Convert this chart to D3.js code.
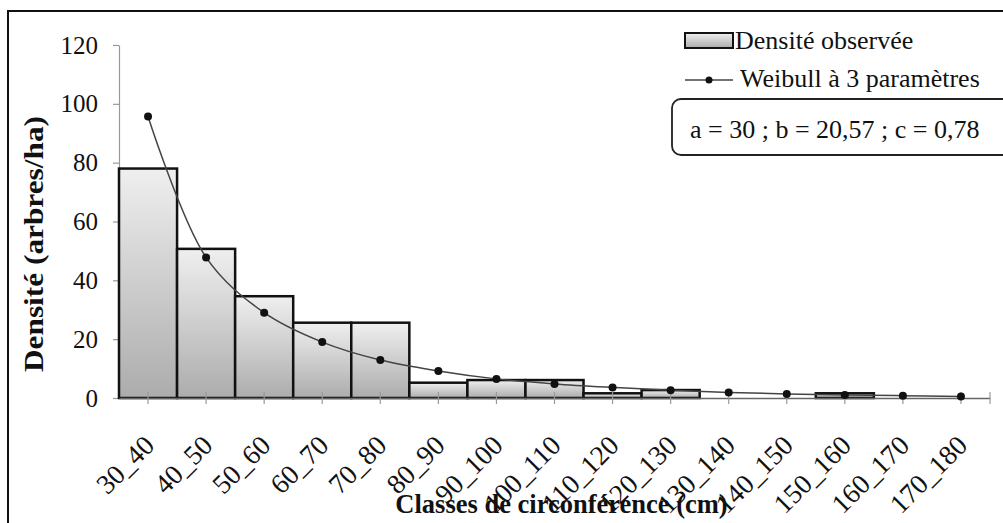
<!DOCTYPE html>
<html>
<head>
<meta charset="utf-8">
<script src="https://cdn.jsdelivr.net/npm/d3@7"></script>
<style>
  html, body { margin: 0; padding: 0; background: #fff; }
  svg { display: block; }
  text { font-family: "Liberation Serif", "Times New Roman", serif; fill: #111; }
</style>
</head>
<body>
<svg id="chart" width="1003" height="523"></svg>
<script>
const categories = ["30_40","40_50","50_60","60_70","70_80","80_90","90_100","100_110","110_120","120_130","130_140","140_150","150_160","160_170","170_180"];
const observed = [78, 50.7, 34.6, 25.6, 25.6, 5.2, 6.1, 6.1, 1.6, 2.7, 0, 0, 1.6, 0, 0];
const weibull = [95.7, 47.8, 29.0, 19.0, 12.9, 9.2, 6.5, 4.8, 3.6, 2.6, 1.9, 1.4, 1.0, 0.8, 0.5];
const yTicks = [0, 20, 40, 60, 80, 100, 120];
const legendLabels = ["Densité observée", "Weibull à 3 paramètres"];
const paramText = "a = 30 ; b = 20,57 ; c = 0,78";
const xTitle = "Classes de circonférence (cm)";
const yTitle = "Densité (arbres/ha)";

const svg = d3.select("#chart");
const plotLeft = 119, plotRight = 990, plotTop = 45, plotBottom = 398;

// gradient
const defs = svg.append("defs");
const grad = defs.append("linearGradient").attr("id", "barGrad")
  .attr("x1", 0).attr("y1", 0).attr("x2", 0).attr("y2", 1);
grad.append("stop").attr("offset", "0%").attr("stop-color", "#efefef");
grad.append("stop").attr("offset", "100%").attr("stop-color", "#acacac");

// outer border
svg.append("rect").attr("x", 8).attr("y", 11).attr("width", 1100).attr("height", 600)
  .attr("fill", "none").attr("stroke", "#111").attr("stroke-width", 2);

const x = d3.scaleBand().domain(categories).range([plotLeft, plotRight]).padding(0);
const y = d3.scaleLinear().domain([0, 120]).range([plotBottom, plotTop]);

// y axis
const yAxis = svg.append("g").attr("transform", `translate(${plotLeft},0)`)
  .call(d3.axisLeft(y).tickValues(yTicks).tickSize(6).tickPadding(15).tickSizeOuter(0));
yAxis.select(".domain").attr("stroke", "#999").attr("stroke-width", 1.2);
yAxis.selectAll(".tick line").attr("stroke", "#999").attr("stroke-width", 1.2);
yAxis.selectAll(".tick text").style("font-size", "25px").attr("fill", "#111")
  .style("font-family", "'Liberation Serif', serif");

// bars
svg.append("g").selectAll("rect").data(categories).join("rect")
  .attr("x", d => x(d))
  .attr("width", x.bandwidth())
  .attr("y", (d, i) => y(observed[i]))
  .attr("height", (d, i) => plotBottom - y(observed[i]))
  .attr("fill", "url(#barGrad)")
  .attr("stroke", "#111").attr("stroke-width", 2.5);

// x axis
const xAxis = svg.append("g").attr("transform", `translate(0,${plotBottom})`)
  .call(d3.axisBottom(x).tickSize(6).tickSizeOuter(0));
xAxis.select(".domain").attr("stroke", "#666").attr("stroke-width", 1.5);
xAxis.selectAll(".tick line").attr("y1", -6).attr("y2", 6).attr("stroke", "#999").attr("stroke-width", 1.2);
xAxis.selectAll(".tick text")
  .style("font-size", "27.5px").attr("fill", "#111")
  .style("font-family", "'Liberation Serif', serif")
  .attr("text-anchor", "end")
  .attr("dy", 0).attr("y", 0)
  .attr("transform", "translate(8,49) rotate(-45)");
// end tick
xAxis.append("line").attr("x1", plotRight).attr("x2", plotRight).attr("y1", -6).attr("y2", 6)
  .attr("stroke", "#999").attr("stroke-width", 1.2);

// weibull line
const line = d3.line()
  .x((d, i) => x(categories[i]) + x.bandwidth() / 2)
  .y(d => y(d))
  .curve(d3.curveCatmullRom.alpha(0.5));
svg.append("path").datum(weibull).attr("d", line)
  .attr("fill", "none").attr("stroke", "#444").attr("stroke-width", 1.5);
svg.append("g").selectAll("circle").data(weibull).join("circle")
  .attr("cx", (d, i) => x(categories[i]) + x.bandwidth() / 2)
  .attr("cy", d => y(d)).attr("r", 4).attr("fill", "#111");

// axis titles
svg.append("text").attr("x", (395 + 728) / 2).attr("y", 513)
  .attr("text-anchor", "middle").style("font-size", "26.5px").style("font-weight", "bold")
  .text(xTitle);
svg.append("text").attr("transform", "translate(43,244) rotate(-90)")
  .attr("text-anchor", "middle").style("font-size", "27px").style("font-weight", "bold")
  .attr("textLength", 256).attr("lengthAdjust", "spacingAndGlyphs")
  .text(yTitle);

// legend
svg.append("rect").attr("x", 685).attr("y", 33).attr("width", 48).attr("height", 15)
  .attr("fill", "url(#barGrad)").attr("stroke", "#111").attr("stroke-width", 2);
svg.append("text").attr("x", 735).attr("y", 49).style("font-size", "26px").text(legendLabels[0]);
svg.append("line").attr("x1", 685).attr("x2", 733).attr("y1", 80).attr("y2", 80)
  .attr("stroke", "#444").attr("stroke-width", 1.5);
svg.append("circle").attr("cx", 709).attr("cy", 80).attr("r", 3.5).attr("fill", "#111");
svg.append("text").attr("x", 740).attr("y", 87).style("font-size", "26px").text(legendLabels[1]);

// parameter box
svg.append("rect").attr("x", 672).attr("y", 99).attr("width", 345).attr("height", 56).attr("rx", 9)
  .attr("fill", "#fff").attr("stroke", "#222").attr("stroke-width", 1.8);
svg.append("text").attr("x", 690).attr("y", 138).style("font-size", "26px").text(paramText);
</script>
</body>
</html>
